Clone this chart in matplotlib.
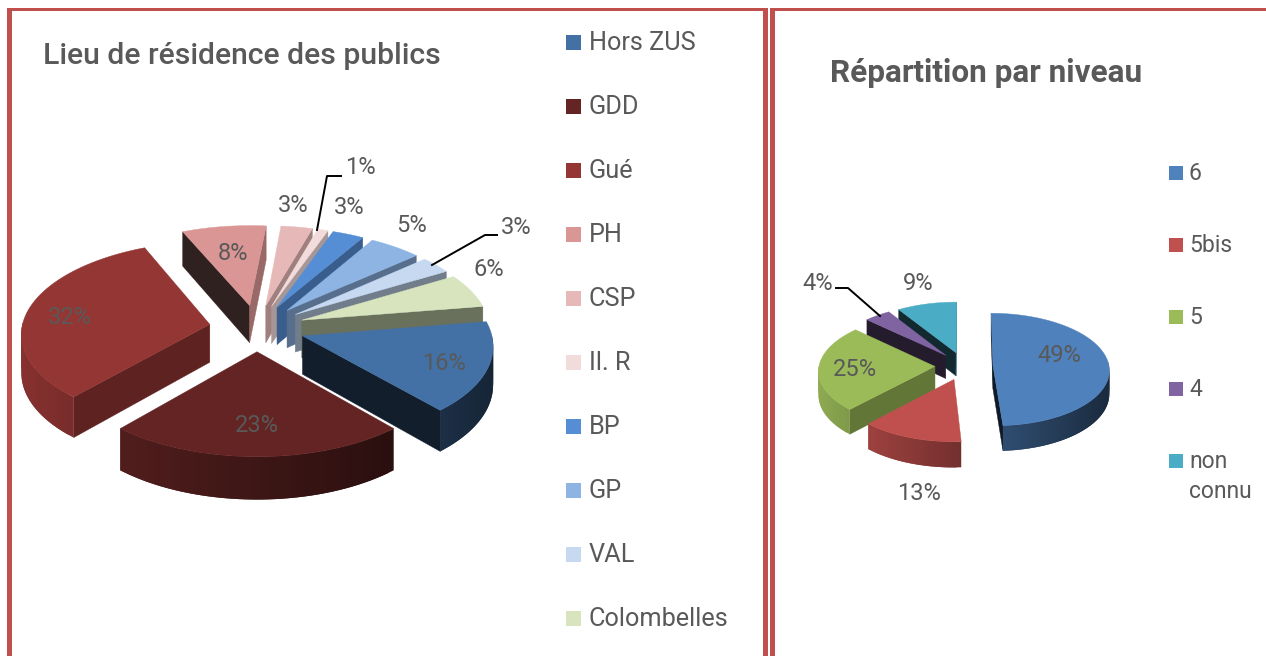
import numpy as np
import matplotlib
matplotlib.use("Agg")
import matplotlib.pyplot as plt
from matplotlib.patches import Rectangle

plt.rcParams['font.family'] = ['Roboto', 'DejaVu Sans']

# --- donnees ---
lieu_labels = ["Hors ZUS", "GDD", "Gué", "PH", "CSP", "Il. R", "BP", "GP", "VAL", "Colombelles"]
lieu_values = [16, 23, 32, 8, 3, 1, 3, 5, 3, 6]
lieu_colors = ["#4371a6", "#632423", "#943634", "#d99694", "#e6b9b8",
               "#f2dcdb", "#558ed5", "#8eb4e3", "#c6d9f1", "#d7e4bd"]

niveau_labels = ["6", "5bis", "5", "4", "non\nconnu"]
niveau_values = [49, 13, 25, 4, 9]
niveau_colors = ["#4f81bd", "#c0504d", "#9bbb59", "#8064a2", "#4bacc6"]

# --- positions des etiquettes (pixels) ---
lieu_label_pos = [(444, 363), (257, 426), (70, 317), (233, 254), (293, 205),
                  (360, 167), (349, 207), (412, 226), (516, 227), (489, 269)]
niveau_label_pos = [(1059, 355), (919, 493), (855, 370), (818, 283), (918, 283)]

TEXT = "#595959"
BORDER = "#c0504d"


def shade(color, f):
    return tuple(c * f for c in matplotlib.colors.to_rgb(color))


def draw_pie(ax, values, colors, center, radii, depth, persp, explode, start):
    """Camembert 3D eclate, projete a la main (ellipse + perspective)."""
    cx, cy = center
    rx, ry = radii

    def project(u, v, z=0.0):
        s = 1 / (1 + persp * v)
        return cx + rx * u * s, cy - ry * v * s + depth * s * z

    fractions = np.array(values) / sum(values) * 2 * np.pi
    starts = start + np.concatenate([[0], np.cumsum(fractions)[:-1]])

    slices = []
    for a0, da, col in zip(starts, fractions, colors):
        mid = a0 + da / 2
        ox, oy = explode * np.sin(mid), explode * np.cos(mid)
        slices.append((oy, a0, da, ox, col))

    # du fond vers l'avant
    for oy, a0, da, ox, col in sorted(slices, key=lambda t: -t[0]):
        theta = np.linspace(a0, a0 + da, max(int(np.degrees(da) / 2), 4) + 1)
        us = ox + np.sin(theta)
        vs = oy + np.cos(theta)

        # faces radiales
        for a, sign in ((a0, -1), (a0 + da, 1)):
            nu, nv = sign * np.cos(a), -sign * np.sin(a)
            if nv < 0.05:
                u1, v1 = ox + np.sin(a), oy + np.cos(a)
                pts = [project(ox, oy), project(u1, v1), project(u1, v1, 1), project(ox, oy, 1)]
                c = shade(col, 0.45 + 0.25 * nu)
                ax.fill(*zip(*pts), color=c, lw=0.3, zorder=2)

        # paroi exterieure, degradee de gauche a droite (quads qui se recouvrent)
        visible = [i for i in range(len(theta) - 1)
                   if np.cos((theta[i] + theta[i + 1]) / 2) <= 0.02]
        visible.sort(key=lambda i: us[i] if us[i] < us[i + 1] else us[i + 1], reverse=True)
        for i in visible:
            j = max(i - 1, 0) if us[i] < us[i + 1] else i
            k = i + 1 if us[i] < us[i + 1] else min(i + 2, len(theta) - 1)
            pts = [project(us[j], vs[j]), project(us[k], vs[k]),
                   project(us[k], vs[k], 1), project(us[j], vs[j], 1)]
            f = 0.62 - 0.3 * np.sin(theta[i])
            ax.fill(*zip(*pts), color=shade(col, f), lw=0, zorder=2)

        # dessus
        top = [project(ox, oy)] + [project(u, v) for u, v in zip(us, vs)]
        ax.fill(*zip(*top), color=col, lw=0.3, zorder=2)


def draw_labels(ax, values, positions):
    for v, (x, y) in zip(values, positions):
        ax.text(x, y, f"{v}%", ha="center", va="center", fontsize=17, color=TEXT, zorder=5)


def draw_legend(ax, labels, colors, x, y0, step, size, gap, fontsize):
    for i, (lab, col) in enumerate(zip(labels, colors)):
        y = y0 + i * step
        ax.add_patch(Rectangle((x, y - size / 2), size, size, color=col, lw=0))
        for j, line in enumerate(lab.split("\n")):
            ax.text(x + size + gap, y + j * 30 + 1, line, ha="left", va="center",
                    fontsize=fontsize, color=TEXT)


fig = plt.figure(figsize=(12.66, 6.56), dpi=100)
ax = fig.add_axes([0, 0, 1, 1])
ax.set_xlim(0, 1266)
ax.set_ylim(656, 0)
ax.axis("off")

# --- cadres ---
for x, y, w, h in [(7, 8, 761, 3), (7, 8, 5, 648), (763, 8, 5, 648),
                   (770, 8, 5, 648), (770, 8, 496, 3)]:
    ax.add_patch(Rectangle((x, y), w, h, color=BORDER, lw=0))

# --- titres ---
ax.text(43, 56, "Lieu de résidence des publics", fontsize=21.7, fontweight="medium",
        color=TEXT, va="center")
ax.text(830, 73, "Répartition par niveau", fontsize=22.7, fontweight="bold",
        color=TEXT, va="center")

# --- camembert de gauche ---
draw_pie(ax, lieu_values, lieu_colors, center=(257, 328), radii=(188, 91), depth=38,
         persp=0.09, explode=0.255, start=np.radians(81))
draw_labels(ax, lieu_values, lieu_label_pos)
draw_legend(ax, lieu_labels, lieu_colors, 566, 42, 64, 15, 8, 18.2)
ax.plot([317, 327, 341], [230, 176, 176], color="black", lw=1.4, zorder=4)
ax.plot([432, 485, 497], [265, 235, 235], color="black", lw=1.4, zorder=4)

# --- camembert de droite ---
draw_pie(ax, niveau_values, niveau_colors, center=(964, 366), radii=(116, 56), depth=23.5,
         persp=0.07, explode=0.25, start=0.0)
draw_labels(ax, niveau_values, niveau_label_pos)
draw_legend(ax, niveau_labels, niveau_colors, 1169, 173, 72, 14, 6, 16.5)
ax.plot([880, 848, 836], [316, 288, 288], color="black", lw=1.4, zorder=4)

fig.savefig("out.png", dpi=100)
